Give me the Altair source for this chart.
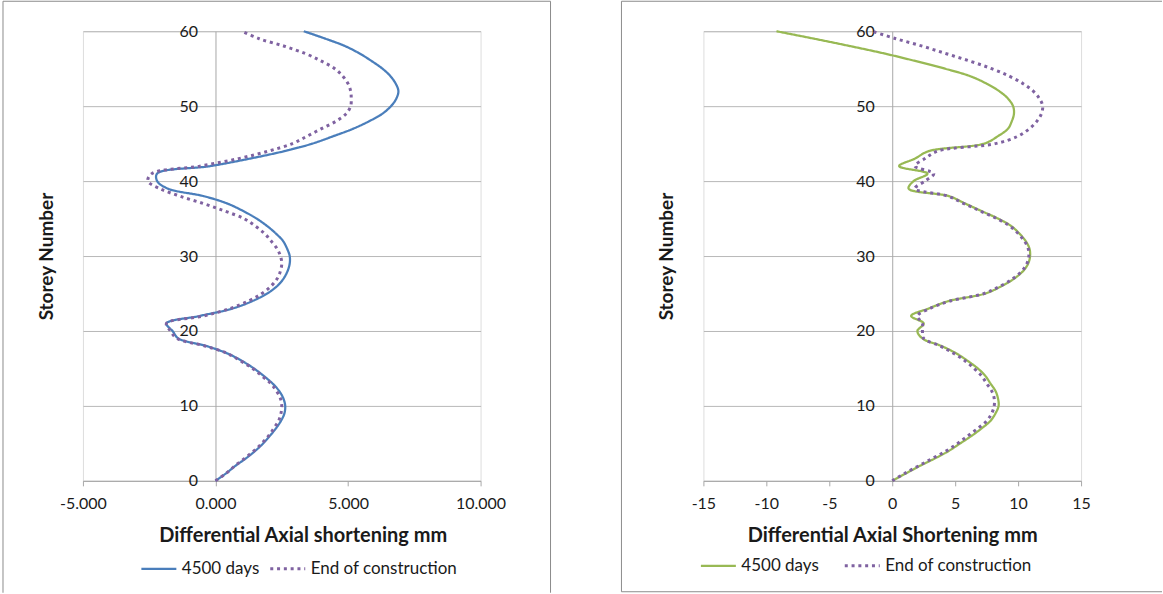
import altair as alt
import pandas as pd

# ---------------- data ----------------
storeys = list(range(0, 61))
series_names = ["4500 days", "End of construction"]

left_4500 = [0.0, 0.4, 0.75, 1.15, 1.5, 1.8, 2.05, 2.28, 2.47, 2.6,
             2.63, 2.56, 2.4, 2.15, 1.82, 1.45, 1.0, 0.45, -0.35, -1.4,
             -1.62, -1.85, -0.6, 0.65, 1.4, 1.95, 2.33, 2.57, 2.72, 2.8,
             2.8, 2.7, 2.55, 2.28, 1.95, 1.55, 1.05, 0.45, -0.45, -1.8,
             -2.2, -2.2, -0.2, 1.3, 2.6, 3.65, 4.45, 5.2, 5.8, 6.3,
             6.62, 6.82, 6.9, 6.8, 6.6, 6.3, 5.9, 5.45, 4.9, 4.15, 3.33]
left_eoc = [0.0, 0.4, 0.73, 1.1, 1.45, 1.75, 2.0, 2.2, 2.38, 2.47,
            2.5, 2.45, 2.3, 2.08, 1.75, 1.4, 0.95, 0.45, -0.4, -1.45,
            -1.7, -1.85, -0.45, 0.55, 1.25, 1.75, 2.1, 2.33, 2.45, 2.5,
            2.45, 2.32, 2.1, 1.85, 1.5, 1.07, 0.35, -0.45, -1.35, -2.1,
            -2.55, -2.4, -0.59, 0.87, 2.0, 2.9, 3.46, 4.0, 4.55, 4.93,
            5.1, 5.12, 5.1, 5.0, 4.8, 4.5, 4.0, 3.4, 2.6, 1.65, 1.0]
right_4500 = [0.0, 1.1, 2.2, 3.4, 4.5, 5.4, 6.3, 7.1, 7.8, 8.2,
              8.45, 8.4, 8.2, 7.8, 7.4, 6.8, 6.0, 5.1, 3.9, 2.4,
              2.0, 2.5, 1.5, 2.9, 4.5, 7.4, 8.7, 9.7, 10.4, 10.8,
              10.95, 10.9, 10.6, 10.1, 9.45, 8.4, 7.1, 5.8, 4.5, 1.3,
              1.7, 2.8, 0.55, 1.8, 2.9, 7.3, 8.4, 9.2, 9.5, 9.67,
              9.6, 9.2, 8.5, 7.5, 6.2, 4.2, 1.9, -0.55, -3.3, -6.2, -9.2]
right_eoc = [0.0, 1.0, 2.1, 3.2, 4.3, 5.2, 6.0, 6.8, 7.5, 7.9,
             8.1, 8.1, 7.9, 7.5, 7.1, 6.5, 5.8, 4.9, 3.8, 2.5,
             2.4, 2.4, 2.0, 3.0, 4.6, 7.3, 8.6, 9.6, 10.3, 10.7,
             10.85, 10.8, 10.5, 10.0, 9.35, 8.3, 7.0, 5.7, 4.4, 1.8,
             2.6, 3.3, 1.8, 2.6, 3.6, 8.2, 10.0, 10.9, 11.5, 11.85,
             11.95, 11.7, 11.2, 10.4, 9.3, 7.9, 6.2, 4.3, 2.4, 0.3, -1.6]

left_xticks = [-5, 0, 5, 10]
right_xticks = [-15, -10, -5, 0, 5, 10, 15]
y_ticks = [0, 10, 20, 30, 40, 50, 60]

left_colors = ["#4a7ebb", "#7f62a1"]
right_colors = ["#98b954", "#7f62a1"]

# ---------------- styling ----------------
FONT = "Lato"
TXT = "#1a1a1a"
GRID = "#b8b8b8"
AXIS = "#a8a8a8"
FRAME = "#8c8c8c"
H = 450


def long_df(a, b):
    return pd.DataFrame({
        "storey": storeys + storeys,
        "value": a + b,
        "series": [series_names[0]] * len(a) + [series_names[1]] * len(b),
    })


frame_df = pd.DataFrame({"k": [0]})


def vrule(x, y, y2):
    return alt.Chart(frame_df).mark_rule(color=FRAME, strokeWidth=1).encode(
        x=alt.value(x), y=alt.value(y), y2=alt.value(y2))


def hrule(y, x, x2):
    return alt.Chart(frame_df).mark_rule(color=FRAME, strokeWidth=1).encode(
        y=alt.value(y), x=alt.value(x), x2=alt.value(x2))


def panel(df, xdom, xticks, fmt, width, colors, xtitle, title_x,
          ytitle_x, legend_x, legend_y, col_pad, frame):
    zero_px = (0 - xdom[0]) / (xdom[1] - xdom[0]) * width
    legend = alt.Legend(
        title=None, orient="none", direction="horizontal",
        legendX=legend_x, legendY=legend_y, symbolType="stroke",
        symbolSize=1225, symbolStrokeWidth=2.6, labelFontSize=17,
        labelFont=FONT, labelColor=TXT, columnPadding=col_pad,
        labelOffset=4, padding=0)
    lines = alt.Chart(df).mark_line(interpolate="catmull-rom", clip=False).encode(
        x=alt.X("value:Q",
                scale=alt.Scale(domain=xdom, nice=False, zero=False),
                axis=alt.Axis(values=xticks, format=fmt,
                              labelExpr="replace(datum.label, '\u2212', '-')",
                              grid=False, ticks=True, tickSize=5,
                              tickColor=AXIS, domainColor=AXIS,
                              labelFlush=False,
                              labelFontSize=16, labelFont=FONT,
                              labelColor=TXT, labelPadding=10,
                              title=xtitle, titleFontSize=20,
                              titleFont=FONT, titleFontWeight="bold",
                              titleColor=TXT, titleX=title_x, titleY=55,
                              titleBaseline="middle", titleAlign="center")),
        y=alt.Y("storey:Q",
                scale=alt.Scale(domain=[0, 60], nice=False),
                axis=alt.Axis(values=y_ticks, offset=-zero_px, ticks=False,
                              labelFlush=False,
                              labelPadding=18, grid=True, gridColor=GRID,
                              domainColor=AXIS, labelFontSize=16,
                              labelFont=FONT, labelColor=TXT,
                              title="Storey Number", titleFontSize=19,
                              titleFont=FONT, titleFontWeight="bold",
                              titleColor=TXT, titleX=ytitle_x - zero_px,
                              titleY=H / 2, titleBaseline="middle",
                              titleAlign="center", titleAngle=-90)),
        color=alt.Color("series:N",
                        scale=alt.Scale(domain=series_names, range=colors),
                        legend=legend),
        strokeDash=alt.StrokeDash("series:N",
                                  scale=alt.Scale(domain=series_names,
                                                  range=[[1, 0], [3, 3.8]]),
                                  legend=legend),
        strokeWidth=alt.StrokeWidth("series:N",
                                    scale=alt.Scale(domain=series_names,
                                                    range=[2.25, 3]),
                                    legend=None),
        order=alt.Order("storey:Q"),
    )
    return alt.layer(*frame, lines).properties(width=width, height=H)


LW, RW = 398, 378

left = panel(long_df(left_4500, left_eoc), [-5, 10], left_xticks, ".3f",
             LW, left_colors, "Differential Axial shortening mm",
             220, -36, 57, 519, 4,
             [vrule(-80, -30, 562), vrule(468, -30, 562), hrule(-30, -80, 468)])
right = panel(long_df(right_4500, right_eoc), [-15, 15], right_xticks, "d",
              RW, right_colors, "Differential Axial Shortening mm",
              RW / 2, -37, -4, 516, 19,
              [vrule(-82, -30, 561), hrule(-30, -82, 459), hrule(561, -82, 459)])

chart = alt.hconcat(left, right, spacing=223, bounds="flush").resolve_scale(
    color="independent", strokeDash="independent", strokeWidth="independent"
).resolve_legend(
    color="independent", strokeDash="independent"
).properties(
    padding={"left": 2, "top": 0, "right": 0, "bottom": 0},
    background="white",
).configure_view(stroke=None).configure(font=FONT)

chart.save("out.html", embed_options={"renderer": "svg", "actions": False})
